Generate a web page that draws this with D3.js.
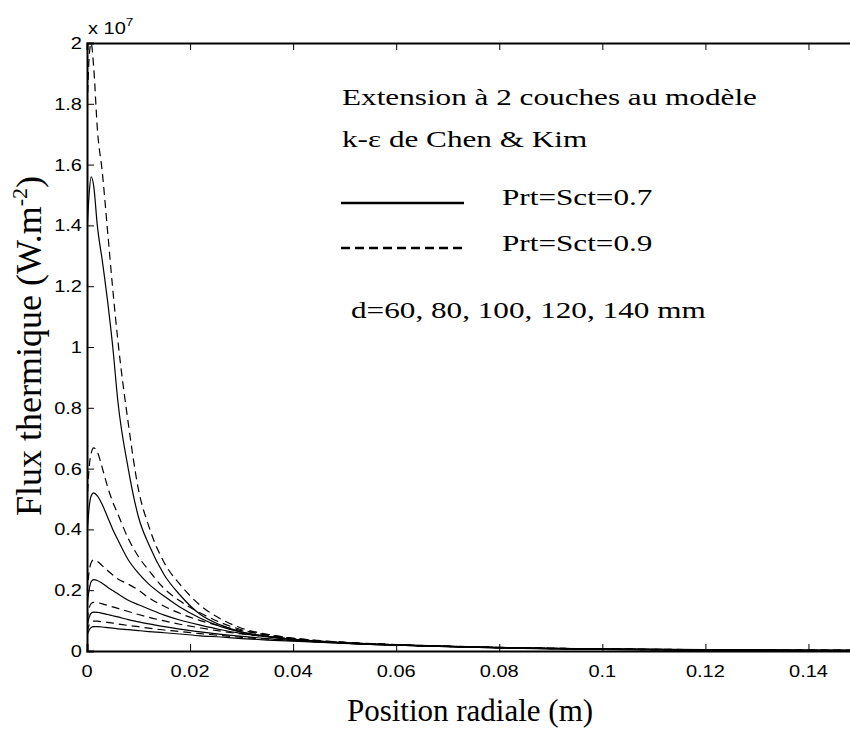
<!DOCTYPE html>
<html>
<head>
<meta charset="utf-8">
<script src="https://cdn.jsdelivr.net/npm/d3@7"></script>
<style>
  body { margin: 0; background: #fff; }
  svg { display: block; }
</style>
</head>
<body>
<svg id="chart" width="850" height="729"></svg>
<script>
// ---------- data (heat flux in units of 1e7 W.m-2) ----------
const positions = [0, 0.0004, 0.0008, 0.0013, 0.002, 0.003, 0.004, 0.005, 0.006, 0.008, 0.010, 0.012, 0.015, 0.018, 0.022, 0.026, 0.03, 0.035, 0.04, 0.05, 0.06, 0.07, 0.08, 0.09, 0.10, 0.12, 0.14, 0.15];

const distances = ["60", "80", "100", "120", "140"];

// Prt=Sct=0.7 (solid)
const solid_d60  = [1.38,1.50,1.56,1.53,1.40,1.28,1.15,1.00,0.82,0.60,0.44,0.35,0.25,0.185,0.12,0.085,0.062,0.048,0.038,0.026,0.019,0.014,0.010,0.007,0.005,0.003,0.0015,0.001];
const solid_d80  = [0.38,0.47,0.51,0.52,0.51,0.48,0.44,0.40,0.365,0.30,0.255,0.22,0.18,0.145,0.108,0.08,0.062,0.048,0.038,0.026,0.019,0.014,0.010,0.0075,0.0055,0.003,0.0016,0.001];
const solid_d100 = [0.15,0.20,0.228,0.235,0.232,0.222,0.21,0.199,0.188,0.167,0.152,0.138,0.118,0.102,0.085,0.070,0.058,0.047,0.038,0.027,0.020,0.015,0.011,0.008,0.006,0.0035,0.002,0.0015];
const solid_d120 = [0.08,0.11,0.124,0.128,0.127,0.124,0.12,0.116,0.112,0.103,0.096,0.089,0.08,0.072,0.063,0.055,0.048,0.041,0.035,0.026,0.020,0.015,0.011,0.0085,0.0065,0.004,0.0025,0.002];
const solid_d140 = [0.05,0.068,0.077,0.08,0.08,0.079,0.077,0.075,0.073,0.07,0.067,0.064,0.06,0.056,0.05,0.046,0.041,0.036,0.032,0.025,0.019,0.015,0.0115,0.009,0.007,0.0045,0.003,0.0025];

// Prt=Sct=0.9 (dashed)
const dashed_d60  = [1.75,1.95,2.00,1.92,1.72,1.57,1.38,1.19,1.02,0.75,0.53,0.41,0.29,0.22,0.15,0.105,0.075,0.055,0.042,0.028,0.020,0.015,0.011,0.008,0.006,0.003,0.0015,0.001];
const dashed_d80  = [0.48,0.60,0.65,0.668,0.655,0.60,0.54,0.49,0.45,0.37,0.31,0.265,0.205,0.165,0.125,0.093,0.07,0.052,0.041,0.028,0.02,0.015,0.011,0.008,0.006,0.0033,0.0017,0.0011];
const dashed_d100 = [0.19,0.26,0.29,0.30,0.295,0.28,0.265,0.25,0.237,0.22,0.20,0.175,0.147,0.124,0.100,0.082,0.067,0.053,0.042,0.029,0.021,0.016,0.012,0.009,0.0065,0.0038,0.0022,0.0016];
const dashed_d120 = [0.10,0.14,0.156,0.16,0.159,0.155,0.15,0.145,0.14,0.13,0.12,0.111,0.099,0.088,0.076,0.065,0.056,0.047,0.039,0.028,0.021,0.016,0.012,0.009,0.007,0.0042,0.0027,0.002];
const dashed_d140 = [0.062,0.085,0.095,0.098,0.098,0.096,0.094,0.092,0.089,0.084,0.080,0.075,0.069,0.064,0.057,0.051,0.045,0.039,0.034,0.026,0.020,0.015,0.0115,0.009,0.007,0.0045,0.003,0.0025];

const xTicks = [0, 0.02, 0.04, 0.06, 0.08, 0.1, 0.12, 0.14];
const xTickLabels = ["0", "0.02", "0.04", "0.06", "0.08", "0.1", "0.12", "0.14"];
const yTicks = [0, 0.2, 0.4, 0.6, 0.8, 1, 1.2, 1.4, 1.6, 1.8, 2];
const yTickLabels = ["0", "0.2", "0.4", "0.6", "0.8", "1", "1.2", "1.4", "1.6", "1.8", "2"];

const legendTitle1 = "Extension à 2 couches au modèle";
const legendTitle2 = "k-ε de Chen & Kim";
const legendSolid = "Prt=Sct=0.7";
const legendDashed = "Prt=Sct=0.9";
const legendDist = "d=60, 80, 100, 120, 140 mm";

// ---------- layout ----------
const svg = d3.select("#chart");
const mL = 87, mR = 860, mT = 43, mB = 651;

const x = d3.scaleLinear().domain([0, 0.15]).range([mL, mR]);
const y = d3.scaleLinear().domain([0, 2]).range([mB, mT]);

const serif = "'Liberation Serif', 'Times New Roman', serif";
const sans = "'Liberation Sans', Arial, sans-serif";

svg.append("defs").append("clipPath").attr("id", "plotclip")
  .append("rect").attr("x", mL).attr("y", mT - 1).attr("width", mR - mL).attr("height", mB - mT + 1);

// ---------- curves ----------
const series = [
  { vals: solid_d60, dash: null }, { vals: solid_d80, dash: null }, { vals: solid_d100, dash: null },
  { vals: solid_d120, dash: null }, { vals: solid_d140, dash: null },
  { vals: dashed_d60, dash: "8,5" }, { vals: dashed_d80, dash: "8,5" }, { vals: dashed_d100, dash: "8,5" },
  { vals: dashed_d120, dash: "8,5" }, { vals: dashed_d140, dash: "8,5" }
];

const line = d3.line()
  .x((d, i) => x(positions[i]))
  .y(d => y(d))
  .curve(d3.curveMonotoneX);

const g = svg.append("g").attr("clip-path", "url(#plotclip)");
series.forEach(s => {
  g.append("path")
    .attr("d", line(s.vals))
    .attr("fill", "none")
    .attr("stroke", "#000")
    .attr("stroke-width", 1.2)
    .attr("stroke-dasharray", s.dash);
});

// ---------- axes (MATLAB style, inward ticks) ----------
const tickLen = 7;
const xAxisB = d3.axisBottom(x).tickValues(xTicks).tickSize(-tickLen).tickFormat("");
const xAxisT = d3.axisTop(x).tickValues(xTicks).tickSize(-tickLen).tickFormat("");
const yAxisL = d3.axisLeft(y).tickValues(yTicks).tickSize(-tickLen).tickFormat("");
const yAxisR = d3.axisRight(y).tickValues(yTicks).tickSize(-tickLen).tickFormat("");

function styleAxis(sel) {
  sel.selectAll("path.domain").attr("stroke", "#000").attr("stroke-width", 2);
  sel.selectAll(".tick line").attr("stroke", "#000").attr("stroke-width", 1);
}
svg.append("g").attr("transform", `translate(0,${mB})`).call(xAxisB).call(styleAxis);
svg.append("g").attr("transform", `translate(0,${mT})`).call(xAxisT).call(styleAxis);
svg.append("g").attr("transform", `translate(${mL},0)`).call(yAxisL).call(styleAxis);
svg.append("g").attr("transform", `translate(${mR},0)`).call(yAxisR).call(styleAxis);

// tick labels (horizontally stretched like the original)
const tickFont = 16, stretch = 1.25;
xTicks.forEach((t, i) => {
  svg.append("text")
    .attr("transform", `translate(${x(t)},677) scale(${stretch},1)`)
    .attr("text-anchor", "middle")
    .attr("font-family", sans).attr("font-size", tickFont)
    .text(xTickLabels[i]);
});
yTicks.forEach((t, i) => {
  svg.append("text")
    .attr("transform", `translate(82,${y(t) + 6}) scale(${stretch},1)`)
    .attr("text-anchor", "end")
    .attr("font-family", sans).attr("font-size", tickFont)
    .text(yTickLabels[i]);
});

// exponent
const expo = svg.append("text")
  .attr("transform", `translate(88,34) scale(${stretch},1)`)
  .attr("font-family", sans).attr("font-size", tickFont);
expo.append("tspan").text("x 10");
expo.append("tspan").attr("dy", -8).attr("font-size", 11).text("7");

// axis titles
svg.append("text")
  .attr("transform", "translate(470,721)")
  .attr("text-anchor", "middle")
  .attr("font-family", serif).attr("font-size", 31)
  .text("Position radiale (m)");

const yt = svg.append("text")
  .attr("transform", "translate(41,346) rotate(-90)")
  .attr("text-anchor", "middle")
  .attr("font-family", serif).attr("font-size", 36);
yt.append("tspan").text("Flux thermique (W.m");
yt.append("tspan").attr("dy", -14).attr("font-size", 22).text("-2");
yt.append("tspan").attr("dy", 14).text(")");

// ---------- legend ----------
function legText(str, tx, ty) {
  svg.append("text")
    .attr("transform", `translate(${tx},${ty}) scale(1.3,1)`)
    .attr("font-family", serif).attr("font-size", 24)
    .text(str);
}
legText(legendTitle1, 342, 105);
legText(legendTitle2, 342, 147);
svg.append("line").attr("x1", 341).attr("x2", 464).attr("y1", 203).attr("y2", 203)
  .attr("stroke", "#000").attr("stroke-width", 2.6);
legText(legendSolid, 502, 205);
svg.append("line").attr("x1", 341).attr("x2", 464).attr("y1", 248).attr("y2", 248)
  .attr("stroke", "#000").attr("stroke-width", 2.4).attr("stroke-dasharray", "9,5");
legText(legendDashed, 502, 251);
legText(legendDist, 351, 318);
</script>
</body>
</html>
